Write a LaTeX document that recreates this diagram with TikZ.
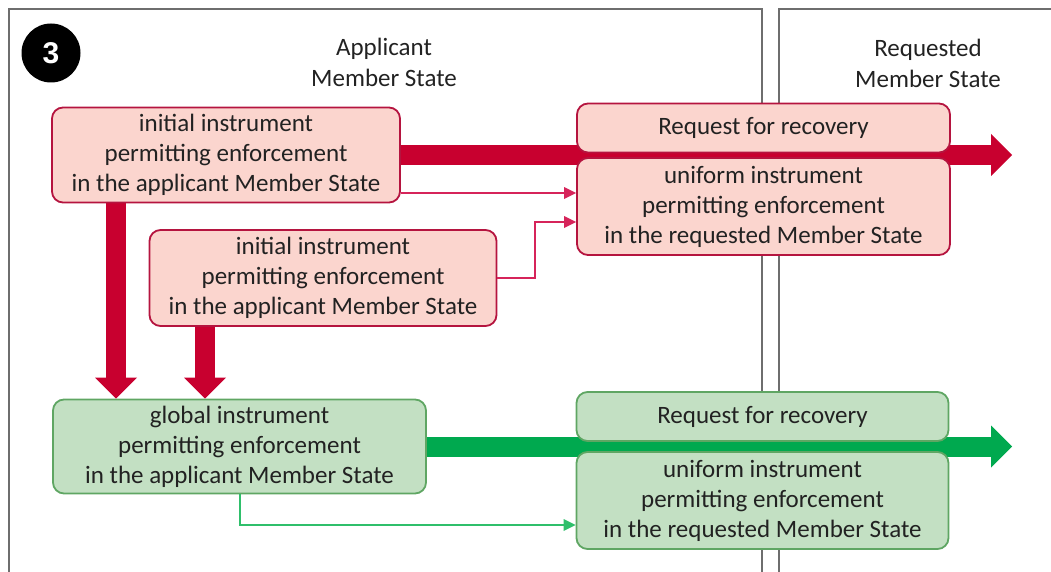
\documentclass[tikz,border=0pt]{standalone}
\usepackage{fontspec}
\setmainfont{Carlito}
\newfontfamily\numfont{Liberation Sans}
\usetikzlibrary{arrows.meta,calc}
\pgfdeclarelayer{frames}
\pgfdeclarelayer{flows}
\pgfsetlayers{frames,flows,main}

\definecolor{redfill}{HTML}{FBD5CE}
\definecolor{redline}{HTML}{B5143F}
\definecolor{redflow}{HTML}{C8002F}
\definecolor{redthin}{HTML}{D6245A}
\definecolor{greenfill}{HTML}{C3E0C3}
\definecolor{greenline}{HTML}{5FA663}
\definecolor{greenflow}{HTML}{00A94F}
\definecolor{greenthin}{HTML}{2FBF6B}
\definecolor{framegray}{HTML}{6E6E6E}
\definecolor{txt}{HTML}{222222}

\tikzset{
  box/.style={rounded corners=11pt, line width=1.8pt, align=center,
    font=\fontsize{25}{30}\selectfont, text=txt, inner sep=0pt},
  redbox/.style={box, draw=redline, fill=redfill},
  greenbox/.style={box, draw=greenline, fill=greenfill},
  paneltitle/.style={align=center, font=\fontsize{25}{31}\selectfont, text=txt},
  bigflow/.style={line width=20pt, -{Triangle[length=21pt,width=42pt,line width=0pt]}},
  thinflow/.style={line width=2pt, -{Triangle[length=12pt,width=12pt,line width=0pt]}},
  panel/.style={draw=framegray, line width=2pt}
}

\begin{document}
\begin{tikzpicture}[x=1pt,y=1pt]
\useasboundingbox (0,0) rectangle (1051,-572);

% member state panels
\begin{pgfonlayer}{frames}
  \clip (0,0) rectangle (1051,-572);
  \draw[panel] (9,-600) -- (9,-9) -- (762,-9) -- (762,-600);
  \draw[panel] (779,-600) -- (779,-9) -- (1080,-9);
\end{pgfonlayer}

% step marker and panel titles
\node[circle, fill=black, minimum size=59pt, inner sep=0pt, text=white,
      font=\numfont\bfseries\fontsize{30}{30}\selectfont] (step) at (51,-53) {3};
\node[paneltitle] (applicant) at (384,-62) {Applicant\\Member State};
\node[paneltitle] (requested) at (928,-63) {Requested\\Member State};

% red flow: initial instruments
\node[redbox, minimum width=348pt, minimum height=95pt] (init1) at (226,-155)
  {initial instrument\\permitting enforcement\\in the applicant Member State};
\node[redbox, minimum width=347pt, minimum height=96pt] (init2) at (323,-278)
  {initial instrument\\permitting enforcement\\in the applicant Member State};
\node[redbox, minimum width=373pt, minimum height=49pt] (reqR) at (763.5,-128)
  {Request for recovery};
\node[redbox, minimum width=373pt, minimum height=97pt] (uniR) at (763.5,-206.5)
  {uniform instrument\\permitting enforcement\\in the requested Member State};

% green flow: global instrument
\node[greenbox, minimum width=373pt, minimum height=94pt] (global) at (239.5,-446.5)
  {global instrument\\permitting enforcement\\in the applicant Member State};
\node[greenbox, minimum width=372pt, minimum height=49pt] (reqG) at (762.5,-416.5)
  {Request for recovery};
\node[greenbox, minimum width=372pt, minimum height=97pt] (uniG) at (762.5,-500.5)
  {uniform instrument\\permitting enforcement\\in the requested Member State};

% connector end points
\coordinate (redEnd) at (1012,-155);
\coordinate (greenEnd) at (1012,-446.5);
\coordinate (a1) at ($(init1.east)+(0,-38)$);
\coordinate (b1) at ($(uniR.west)+(0,-15.5)$);
\coordinate (d1) at ($(init1.south)+(-110,0)$);
\coordinate (d2) at ($(init2.south)+(-118,0)$);
\coordinate (g1) at ($(uniG.west)+(0,-24.5)$);

\begin{pgfonlayer}{flows}
  \draw[bigflow, redflow] (init1.east) -- (redEnd);
  \draw[bigflow, redflow] (d1) -- (d1 |- global.north);
  \draw[bigflow, redflow] (d2) -- (d2 |- global.north);
  \draw[bigflow, greenflow] (global.east) -- (greenEnd);
\end{pgfonlayer}

\draw[thinflow, redthin] (a1) -- (a1 -| uniR.west);
\draw[thinflow, redthin] (init2.east) -| ($(b1)+(-41,0)$) -- (b1);
\draw[thinflow, greenthin] (global.south) |- (g1);
\end{tikzpicture}
\end{document}
